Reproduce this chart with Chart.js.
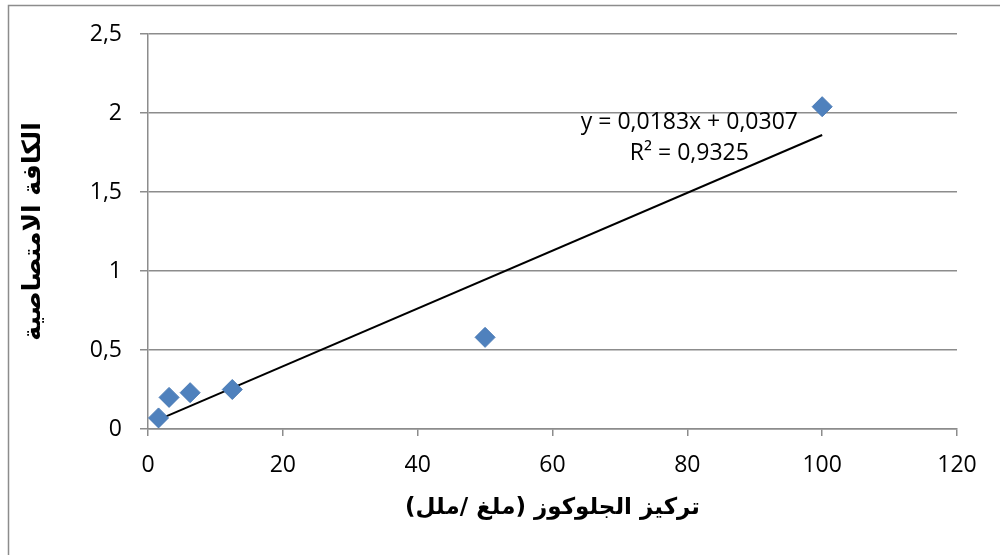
<!DOCTYPE html>
<html>
<head>
<meta charset="utf-8">
<script src="https://cdn.jsdelivr.net/npm/chart.js@4.4.0/dist/chart.umd.min.js"></script>
<style>
  html, body { margin: 0; padding: 0; background: #ffffff; }
  #wrap { width: 1000px; height: 555px; position: relative; }
</style>
</head>
<body>
<div id="wrap"><canvas id="chart" width="1000" height="555"></canvas></div>
<script>
// Glucose concentration (mg/ml) vs absorbance.
const concValues = [1.5625, 3.125, 6.25, 12.5, 50, 100];
const absValues = [0.07, 0.20, 0.23, 0.25, 0.58, 2.04];

// Linear trendline endpoints (y = 0,0183x + 0,0307).
const trendX = [1.5625, 100];
const trendY = [0.0593, 1.8607];

const equationLines = ['y = 0,0183x + 0,0307', 'R² = 0,9325'];
const xTitle = '\u200Fتركيز الجلوكوز (ملغ /ملل)\u200F';
const yTitle = '\u200Fالكافة الامتصاصية\u200F';

const GRID = '#8c8c8c';
const TICK_FONT = { family: 'Open Sans', size: 23 };

// Gray frame round the whole chart, open to the right and bottom.
const framePlugin = {
  id: 'frame',
  beforeDraw(chart) {
    const { ctx } = chart;
    ctx.save();
    ctx.fillStyle = '#ffffff';
    ctx.fillRect(0, 0, chart.width, chart.height);
    ctx.strokeStyle = GRID;
    ctx.lineWidth = 1.5;
    ctx.beginPath();
    ctx.moveTo(8.5, chart.height + 2);
    ctx.lineTo(8.5, 5.5);
    ctx.lineTo(chart.width + 2, 5.5);
    ctx.stroke();
    ctx.restore();
  },
};

// Trendline equation label, placed in data coordinates.
const equationPlugin = {
  id: 'equation',
  afterDatasetsDraw(chart) {
    const { ctx, scales: { x, y } } = chart;
    const px = x.getPixelForValue(80.3);
    ctx.save();
    ctx.font = '23px "Open Sans"';
    ctx.fillStyle = '#000000';
    ctx.textAlign = 'center';
    ctx.textBaseline = 'middle';
    ctx.fillText(equationLines[0], px, y.getPixelForValue(1.94));
    ctx.fillText(equationLines[1], px, y.getPixelForValue(1.745));
    ctx.restore();
  },
};

const commaFmt = (v) => String(v).replace('.', ',');

new Chart(document.getElementById('chart').getContext('2d'), {
  type: 'scatter',
  data: {
    datasets: [
      {
        label: 'Trend',
        data: trendX.map((x, i) => ({ x, y: trendY[i] })),
        showLine: true,
        borderColor: '#000000',
        borderWidth: 2,
        pointRadius: 0,
        order: 2,
      },
      {
        label: 'Absorbance',
        data: concValues.map((x, i) => ({ x, y: absValues[i] })),
        pointStyle: 'rectRot',
        pointRadius: 10,
        pointBackgroundColor: '#4f81bd',
        pointBorderColor: '#4a7ab5',
        pointBorderWidth: 1,
        showLine: false,
        order: 1,
      },
    ],
  },
  options: {
    responsive: false,
    animation: false,
    layout: { padding: { left: 0, top: 34, right: 43, bottom: 0 } },
    plugins: {
      legend: { display: false },
      tooltip: { enabled: false },
    },
    scales: {
      x: {
        type: 'linear',
        min: 0,
        max: 120,
        ticks: { stepSize: 20, color: '#000000', font: TICK_FONT, padding: 16, callback: commaFmt },
        grid: { drawOnChartArea: false, drawTicks: true, tickLength: 7, color: GRID, lineWidth: 1.5 },
        border: { display: true, color: GRID, width: 1.5 },
        title: {
          display: true,
          text: xTitle,
          color: '#000000',
          font: { family: 'DejaVu Sans', size: 23, weight: 'bold' },
          padding: { top: 0, bottom: 33 },
        },
        afterFit(scale) { scale.height = 126; },
      },
      y: {
        min: 0,
        max: 2.5,
        ticks: { stepSize: 0.5, color: '#000000', font: TICK_FONT, padding: 18, callback: commaFmt },
        grid: { color: GRID, lineWidth: 1.5, tickLength: 8 },
        border: { display: true, color: GRID, width: 1.5 },
        title: {
          display: true,
          text: yTitle,
          color: '#000000',
          font: { family: 'DejaVu Sans', size: 25, weight: 'bold' },
          padding: { top: 18, bottom: 0 },
        },
        afterFit(scale) { scale.width = 148; },
      },
    },
  },
  plugins: [framePlugin, equationPlugin],
});
</script>
</body>
</html>
